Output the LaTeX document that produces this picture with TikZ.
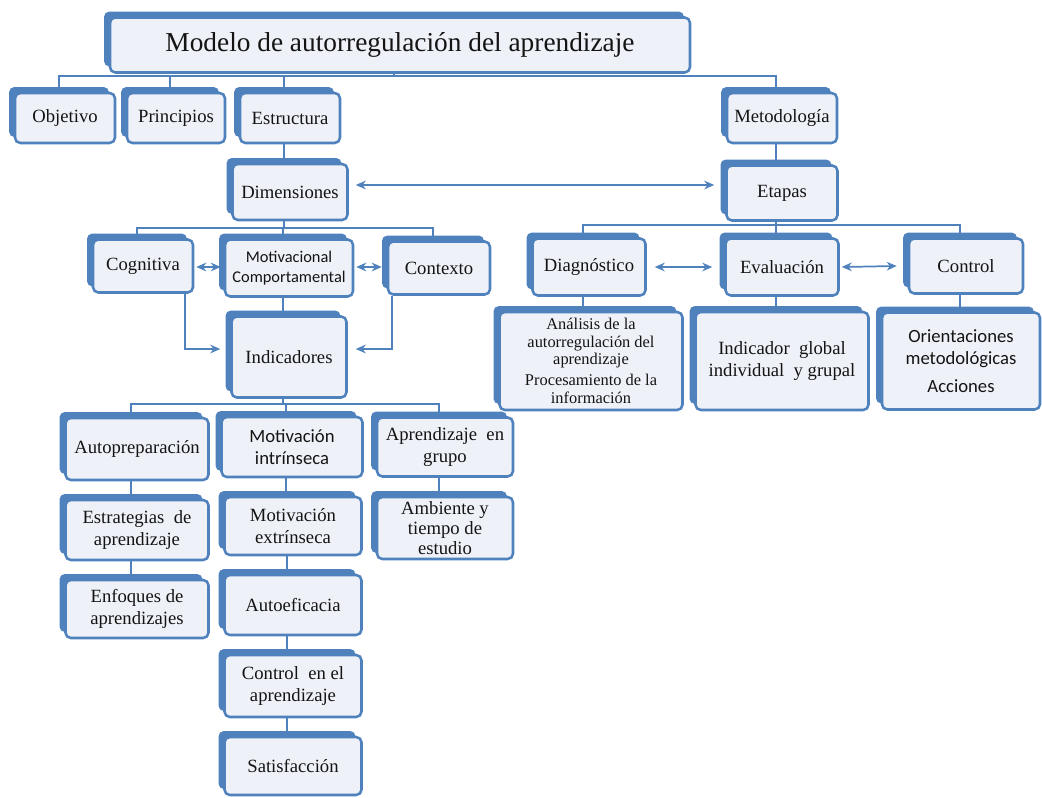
\documentclass[tikz,border=0pt]{standalone}
\usepackage{fontspec}
\setmainfont{Liberation Serif}
\newfontfamily\calib{Carlito}
\usetikzlibrary{shadows,arrows.meta,calc}
\definecolor{cblue}{RGB}{79,129,189}
\definecolor{cfill}{RGB}{238,241,248}
\definecolor{ctext}{RGB}{20,20,20}
\tikzset{
  boxbase/.style={draw=cblue, line width=1.9pt, fill=cfill, rounded corners=4pt,
    inner sep=0pt, align=center, text=ctext, font=\fontsize{14}{16}\selectfont,
    general shadow={fill=cblue, shadow xshift=-4.5pt, shadow yshift=4.5pt}},
  bx/.style 2 args={boxbase, minimum width=#1*0.75pt, minimum height=#2*0.75pt},
  conn/.style={draw=cblue, line width=1.8pt},
  arr/.style={draw=cblue, line width=1.3pt, {Stealth[length=7.5pt,width=6.5pt]}-{Stealth[length=7.5pt,width=6.5pt]}},
  sarr/.style={draw=cblue, line width=1.3pt, -{Stealth[length=7.5pt,width=6.5pt]}},
  sansf/.style={font=\calib\fontsize{14}{16.5}\selectfont},
}
\begin{document}
\begin{tikzpicture}[x=0.75pt,y=-0.75pt]
\useasboundingbox (0,0) rectangle (1042,797);
% top
\node[bx={580}{55}, font=\fontsize{20.5}{24}\selectfont] (title) at (400,45) {Modelo de autorregulación del aprendizaje};
\node[bx={100}{50}] (obj) at (65,118) {Objetivo};
\node[bx={98}{50}] (pri) at (176,118) {Principios};
\node[bx={100}{50}] (est) at (290,118) {Estructura};
\node[bx={110}{50}] (met) at (782,118) {Metodología};
\node[bx={115}{56}] (dim) at (290,192) {Dimensiones};
\node[bx={111}{55}] (eta) at (782,193) {Etapas};
% dimensions row
\node[bx={100}{53}] (cog) at (143,266) {Cognitiva};
\node[bx={128}{57}, font=\calib\fontsize{12.3}{15}\selectfont] (mot) at (289,268) {Motivacional\\Comportamental};
\node[bx={102}{53}] (ctx) at (439,268) {Contexto};
\node[bx={115}{81}] (ind) at (289,357) {Indicadores};
% etapas row
\node[bx={113}{57}] (dia) at (589,267) {Diagnóstico};
\node[bx={113}{57}] (eva) at (782,267) {Evaluación};
\node[bx={114}{55}] (con) at (966,266) {Control};
\node[bx={183}{98}, font=\fontsize{12.3}{13}\selectfont] (ana) at (591,361) {Análisis de la\\autorregulación del\\aprendizaje\\[3pt]Procesamiento de la\\información};
\node[bx={173}{98}, font=\fontsize{14}{17}\selectfont] (igl) at (782,361) {Indicador\ \ global\\individual\ \ y grupal};
\node[bx={158}{97}, sansf] (ori) at (961,361) {Orientaciones\\metodológicas\\[5pt]Acciones};
% indicadores columns
\node[bx={143}{62}] (aut) at (137,449) {Autopreparación};
\node[bx={143}{60}] (estr) at (137,530) {Estrategias\ \ de\\aprendizaje};
\node[bx={143}{58}] (enf) at (137,609) {Enfoques de\\aprendizajes};
\node[bx={141}{60}, sansf] (mi) at (292,447) {Motivación\\intrínseca};
\node[bx={137}{58}] (me) at (293,526) {Motivación\\extrínseca};
\node[bx={137}{60}] (aef) at (293,605) {Autoeficacia};
\node[bx={137}{62}] (cea) at (293,686) {Control\ \ en el\\aprendizaje};
\node[bx={137}{58}] (sat) at (293,766) {Satisfacción};
\node[bx={136}{59}] (apg) at (445,447) {Aprendizaje\ \ en\\grupo};
\node[bx={136}{62}, font=\fontsize{14}{15}\selectfont] (amb) at (445,528) {Ambiente y\\tiempo de\\estudio};
% buses
\coordinate (b0) at (0,76);
\coordinate (b1) at (0,228);
\coordinate (b2) at (0,225);
\coordinate (b3) at (0,404);
% title bus
\draw[conn] ([xshift=-4.5pt]title.south) -- ([xshift=-4.5pt]title.south |- b0);
\draw[conn] ([xshift=-4.5pt]obj.north) |- ([xshift=-4.5pt]met.north |- b0) -- ([xshift=-4.5pt]met.north);
\draw[conn] ([xshift=-4.5pt]pri.north) -- ([xshift=-4.5pt]pri.north |- b0);
\draw[conn] ([xshift=-4.5pt]est.north) -- ([xshift=-4.5pt]est.north |- b0);
\draw[conn] ([xshift=-4.5pt]est.south) -- ([xshift=-4.5pt]dim.north);
\draw[conn] ([xshift=-4.5pt]met.south) -- ([xshift=-4.5pt]eta.north);
% dimensiones bus
\draw[conn] ([xshift=-4.5pt]dim.south) -- ([xshift=-4.5pt]dim.south |- b1);
\draw[conn] ([xshift=-4.5pt]cog.north) |- ([xshift=-4.5pt]ctx.north |- b1) -- ([xshift=-4.5pt]ctx.north);
\draw[conn] ([xshift=-4.5pt]mot.north) -- ([xshift=-4.5pt]mot.north |- b1);
% etapas bus
\draw[conn] ([xshift=-4.5pt]eta.south) -- ([xshift=-4.5pt]eta.south |- b2);
\draw[conn] ([xshift=-4.5pt]dia.north) |- ([xshift=-4.5pt]con.north |- b2) -- ([xshift=-4.5pt]con.north);
\draw[conn] ([xshift=-4.5pt]eva.north) -- ([xshift=-4.5pt]eva.north |- b2);
\draw[conn] ([xshift=-4.5pt]dia.south) -- ([xshift=-4.5pt]dia.south |- ana.north);
\draw[conn] ([xshift=-4.5pt]eva.south) -- ([xshift=-4.5pt]eva.south |- igl.north);
\draw[conn] ([xshift=-4.5pt]con.south) -- ([xshift=-4.5pt]con.south |- ori.north);
% arrows
\draw[arr] ($(dim.east)+(7,-7)$) -- ($(eta.west)+(-11,-8)$);
\draw[arr] ($(cog.east)+(2,1)$) -- ($(mot.west)+(-3,-1)$);
\draw[arr] ($(mot.east)+(2,-1)$) -- ($(ctx.west)+(-5,-1)$);
\draw[arr] ($(dia.east)+(8,0)$) -- ($(eva.west)+(-12,0)$);
\draw[arr] ($(eva.east)+(2,0)$) -- ($(con.west)+(-11,0)$);
\draw[conn] ([xshift=-4.5pt]mot.south) -- ([xshift=-4.5pt]ind.north);
\draw[sarr] ($(cog.south)+(42,0)$) |- ($(ind.west)+(-10,-8)$);
\draw[sarr] ($(ctx.south)+(-47,0)$) |- ($(ind.east)+(8,-8)$);
% indicadores bus
\draw[conn] ([xshift=-4.5pt]ind.south) -- ([xshift=-4.5pt]ind.south |- b3);
\draw[conn] ([xshift=-4.5pt]aut.north) |- ([xshift=-4.5pt]apg.north |- b3) -- ([xshift=-4.5pt]apg.north);
\draw[conn] ([xshift=-4.5pt]mi.north) -- ([xshift=-4.5pt]mi.north |- b3);
% columns
\draw[conn] ([xshift=-4.5pt]aut.south) -- ([xshift=-4.5pt]estr.north);
\draw[conn] ([xshift=-4.5pt]estr.south) -- ([xshift=-4.5pt]enf.north);
\draw[conn] ([xshift=-4.5pt]mi.south) -- ([xshift=-4.5pt]mi.south |- me.north);
\draw[conn] ([xshift=-4.5pt]me.south) -- ([xshift=-4.5pt]aef.north);
\draw[conn] ([xshift=-4.5pt]aef.south) -- ([xshift=-4.5pt]cea.north);
\draw[conn] ([xshift=-4.5pt]cea.south) -- ([xshift=-4.5pt]sat.north);
\draw[conn] ([xshift=-4.5pt]apg.south) -- ([xshift=-4.5pt]amb.north);
\end{tikzpicture}
\end{document}
